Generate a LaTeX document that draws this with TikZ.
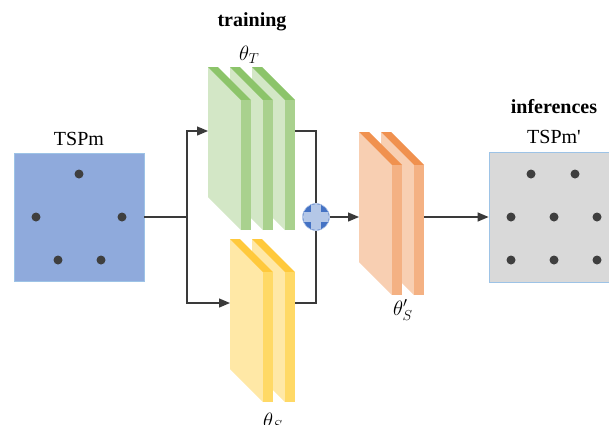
\documentclass[tikz,border=0pt]{standalone}
\usepackage{fontspec}
\setmainfont{Liberation Serif}
\usetikzlibrary{arrows.meta,calc}

% palette
\definecolor{lineclr}{HTML}{3A3A3A}
\definecolor{dotclr}{HTML}{3F3F3F}
\definecolor{inblue}{HTML}{8FAADC}
\definecolor{boxedge}{HTML}{9DC3E6}
\definecolor{outgray}{HTML}{D9D9D9}
\definecolor{sumblue}{HTML}{4472C4}
\definecolor{sumlight}{HTML}{B4C7E7}
\definecolor{gside}{HTML}{D3E7C6}
\definecolor{gfront}{HTML}{A9D18E}
\definecolor{gtop}{HTML}{8CC46A}
\definecolor{yside}{HTML}{FFE8A6}
\definecolor{yfront}{HTML}{FFD966}
\definecolor{ytop}{HTML}{FFC93C}
\definecolor{oside}{HTML}{F8CFB2}
\definecolor{ofront}{HTML}{F4B183}
\definecolor{otop}{HTML}{F0914F}

% one slab of a layer stack: #1 = left x, #2 = top y, #3 = colour prefix
\newcommand{\slab}[3]{%
  \fill[#3side] (#1,#2) -- ++(33,33) -- ++(0,130) -- ++(-33,-33) -- cycle;
  \fill[#3top] (#1,#2) -- ++(10,0) -- ++(33,33) -- ++(-10,0) -- cycle;
  \fill[#3front] ($(#1,#2)+(33,33)$) rectangle ++(10,130);
}

\tikzset{
  conn/.style={draw=lineclr, line width=1.3pt},
  arrow/.style={conn, -{Triangle[length=11pt,width=9pt]}},
  mapbox/.style={rectangle, inner sep=0pt, draw=boxedge, line width=0.8pt},
  dot/.style={circle, fill=dotclr, inner sep=0pt, minimum size=9pt},
  lbl/.style={inner sep=0pt, font=\fontsize{20}{24}\selectfont},
}

\begin{document}
\begin{tikzpicture}[x=1pt,y=-1pt]
\useasboundingbox (0,0) rectangle (609,424);

% input map and output map
\node[mapbox, fill=inblue, minimum width=130pt, minimum height=128pt] (in) at (79,217) {};
\node[mapbox, fill=outgray, minimum width=124pt, minimum height=130pt] (out) at (551,217) {};

% points of the input map
\foreach \p/\q [count=\i] in {79/174, 36/217, 122/217, 58/260, 101/260}
  \node[dot] (pin\i) at (\p,\q) {};
% points of the output map
\foreach \p/\q [count=\i] in {531/174, 575/174, 511/217, 554/217, 597/217, 511/260, 554/260, 597/260}
  \node[dot] (pout\i) at (\p,\q) {};

% layer stacks (back slab first)
\slab{252}{67}{g}
\slab{230}{67}{g}
\slab{208}{67}{g}
\slab{252}{239}{y}
\slab{230}{239}{y}
\slab{381}{132}{o}
\slab{359}{132}{o}

% attachment points on the stacks
\coordinate (split) at (187,217);
\coordinate (gin) at (208,131);
\coordinate (gout) at (295,131);
\coordinate (yin) at (230,303);
\coordinate (yout) at (295,303);
\coordinate (oin) at (359,217);
\coordinate (oout) at (424,217);

% summation node
\node[circle, fill=sumblue, draw=sumlight, line width=0.6pt, minimum size=27pt, inner sep=0pt] (sum) at (316,217) {};

% connectors
\draw[conn] (in.east) -- (split);
\draw[conn, line width=1.6pt] (split |- gin) -- (split |- yin);
\draw[arrow] (split) |- (gin);
\draw[arrow] (split) |- (yin);
\draw[conn] (gout) -| (sum.north);
\draw[conn] (yout) -| (sum.south);
\draw[arrow] (sum.east) -- (oin);
\draw[arrow] (oout) -- (out.west);

% plus sign inside the summation node
\begin{scope}
  \clip (sum.center) circle (13pt);
  \fill[sumlight] ($(sum.center)+(-5,-14)$) rectangle ($(sum.center)+(5,14)$);
  \fill[sumlight] ($(sum.center)+(-14,-5)$) rectangle ($(sum.center)+(14,5)$);
\end{scope}

% labels
\node[lbl, anchor=base] (ttrain) at (252,26.7) {\bfseries training};
\node[lbl, anchor=base west] (thT) at (239,60) {$\theta_T$};
\node[lbl, anchor=base] (tin) at (79,145) {TSPm};
\node[lbl, anchor=base] (tinf) at (554,113) {\bfseries inferences};
\node[lbl, anchor=base] (tout) at (554,143) {TSPm\textquotesingle};
\node[lbl, anchor=base west] (thSp) at (393,315) {$\theta_S^{\prime}$};
\node[lbl, anchor=base west] (thS) at (263,427) {$\theta_S$};
\end{tikzpicture}
\end{document}
